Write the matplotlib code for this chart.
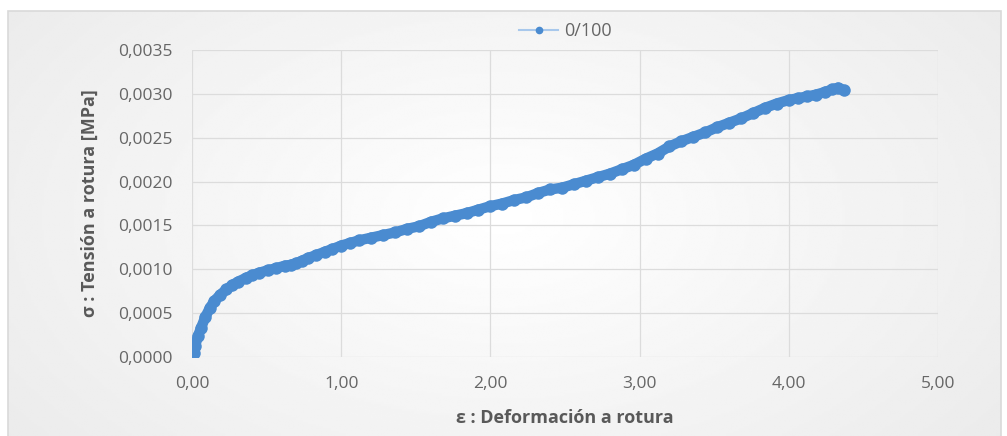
import numpy as np
import matplotlib.pyplot as plt
from matplotlib.patches import Rectangle
from matplotlib.lines import Line2D
from matplotlib.ticker import FuncFormatter

plt.rcParams['font.family'] = ['Open Sans', 'DejaVu Sans']

# strain / stress readings for the 0/100 specimen
strain = [0.00, 0.01, 0.02, 0.04, 0.06, 0.09, 0.12, 0.15, 0.19, 0.23, 0.27, 0.31,
          0.36, 0.40, 0.45, 0.51, 0.56, 0.62, 0.66, 0.70, 0.74, 0.78, 0.83, 0.89,
          0.94, 1.00, 1.06, 1.12, 1.20, 1.28, 1.36, 1.44, 1.52, 1.60, 1.68, 1.76,
          1.84, 1.92, 2.00, 2.08, 2.16, 2.24, 2.32, 2.40, 2.48, 2.56, 2.64, 2.72,
          2.80, 2.88, 2.96, 3.04, 3.12, 3.20, 3.28, 3.36, 3.44, 3.52, 3.60, 3.68,
          3.76, 3.84, 3.92, 4.00, 4.06, 4.12, 4.18, 4.24, 4.29, 4.33, 4.37]
stress = [0.00000, 0.00005, 0.00012, 0.00024, 0.00033, 0.00046, 0.00056, 0.00064,
          0.00071, 0.00077, 0.00082, 0.00086, 0.00090, 0.00093, 0.00096, 0.00099,
          0.00101, 0.00104, 0.00105, 0.00107, 0.00110, 0.00113, 0.00116, 0.00120,
          0.00123, 0.00127, 0.00130, 0.00133, 0.00136, 0.00139, 0.00142, 0.00146,
          0.00149, 0.00154, 0.00158, 0.00161, 0.00164, 0.00168, 0.00172, 0.00175,
          0.00179, 0.00182, 0.00187, 0.00191, 0.00193, 0.00197, 0.00201, 0.00205,
          0.00209, 0.00214, 0.00219, 0.00226, 0.00232, 0.00240, 0.00246, 0.00251,
          0.00256, 0.00262, 0.00267, 0.00272, 0.00278, 0.00284, 0.00289, 0.00293,
          0.00295, 0.00297, 0.00299, 0.00302, 0.00305, 0.00307, 0.00304]
series_name = '0/100'

x_ticks = [0, 1, 2, 3, 4, 5]
y_ticks = [0, 0.0005, 0.0010, 0.0015, 0.0020, 0.0025, 0.0030, 0.0035]

blue = '#4a8bd0'
grey_text = '#666666'

fig = plt.figure(figsize=(10.07, 4.36), dpi=100)

# soft grey background of the chart box
bg = fig.add_axes([0, 0, 1, 1], zorder=-1)
yy, xx = np.mgrid[0:1:200j, 0:1:400j]
r = np.sqrt(((xx - 0.5) / 0.55) ** 2 + ((yy - 0.5) / 0.75) ** 2)
shade = 1.0 - 0.07 * np.clip(r, 0, 1.2)
box = Rectangle((8 / 1007, -0.1), 993 / 1007, 1.1 - 11 / 436, transform=bg.transAxes)
img = bg.imshow(shade, cmap='gray', vmin=0, vmax=1, extent=[0, 1, 0, 1],
                aspect='auto', interpolation='bilinear', zorder=1)
img.set_clip_path(box)
bg.add_patch(Rectangle((8 / 1007, -0.1), 993 / 1007, 1.1 - 11 / 436,
                       facecolor='none', edgecolor='#d9d9d9', lw=1.2, zorder=2))
bg.set_xlim(0, 1)
bg.set_ylim(0, 1)
bg.axis('off')

ax = fig.add_axes([0.1907, 0.1812, 0.7408, 0.7041])
ax.set_facecolor('none')

# dense markers joined by a thick stroke of the same colour
ax.plot(strain, stress, color=blue, lw=7.5, solid_capstyle='round',
        solid_joinstyle='round', zorder=2)
ax.plot(strain, stress, color=blue, lw=1, marker='o', ms=9, mew=0,
        markerfacecolor=blue, zorder=3)

ax.set_xlim(0, 5)
ax.set_ylim(0, 0.0035)
ax.set_xticks(x_ticks)
ax.set_yticks(y_ticks)
ax.xaxis.set_major_formatter(FuncFormatter(lambda v, p: f'{v:.2f}'.replace('.', ',')))
ax.yaxis.set_major_formatter(FuncFormatter(lambda v, p: f'{v:.4f}'.replace('.', ',')))
ax.tick_params(axis='both', length=0, labelsize=12.5, colors=grey_text)
ax.tick_params(axis='x', pad=14)
ax.tick_params(axis='y', pad=14)

ax.grid(True, color='#dcdcdc', lw=0.9)
ax.set_axisbelow(True)
for s in ax.spines.values():
    s.set_visible(False)

ax.set_xlabel('ε : Deformación a rotura', fontsize=13, fontweight='bold',
              color='#595959', labelpad=12)
ax.set_ylabel('σ : Tensión a rotura [MPa]', fontsize=13, fontweight='bold',
              color='#595959', labelpad=14)

handle = Line2D([], [], color='#a8c8ec', lw=1.5, marker='o', ms=4.5,
                markerfacecolor=blue, markeredgecolor=blue)
leg = ax.legend([handle], [series_name], loc='center', bbox_to_anchor=(0.5, 1.062),
                frameon=False, fontsize=13, handlelength=2.2, handletextpad=0.3)
for t in leg.get_texts():
    t.set_color(grey_text)

fig.savefig('out.png', dpi=100)
